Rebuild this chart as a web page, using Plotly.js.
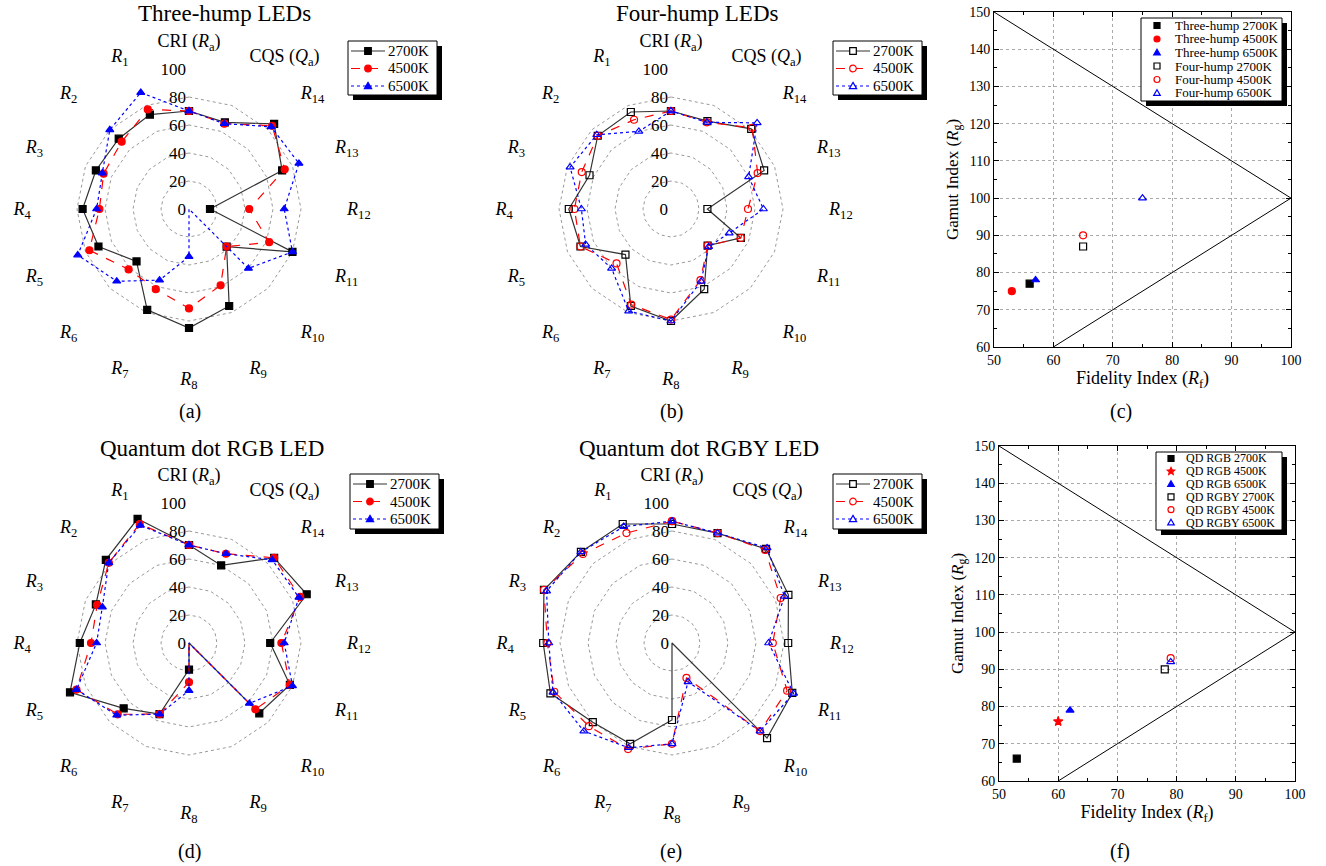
<!DOCTYPE html>
<html>
<head>
<meta charset="utf-8">
<script src="https://cdn.plot.ly/plotly-3.0.1.min.js"></script>
<style>html,body{margin:0;padding:0;background:#fff;}#chart{width:1326px;height:866px;}</style>
</head>
<body>
<div id="chart"></div>
<script>
// ---------- DATA ----------
const categories = ['CRI (<i>R</i><sub>a</sub>)', '<i>R</i><sub>1</sub>', '<i>R</i><sub>2</sub>', '<i>R</i><sub>3</sub>',
  '<i>R</i><sub>4</sub>', '<i>R</i><sub>5</sub>', '<i>R</i><sub>6</sub>', '<i>R</i><sub>7</sub>', '<i>R</i><sub>8</sub>',
  '<i>R</i><sub>9</sub>', '<i>R</i><sub>10</sub>', '<i>R</i><sub>11</sub>', '<i>R</i><sub>12</sub>', '<i>R</i><sub>13</sub>',
  '<i>R</i><sub>14</sub>', 'CQS (<i>Q</i><sub>a</sub>)'];
const radialTicks = [0, 20, 40, 60, 80, 100];
const seriesNames = ['2700K', '4500K', '6500K'];

const threeHump2700 = [70, 73, 71, 72, 76, 70, 53, 78, 85, 75, 38, 80, 15, 72, 86, 67];
const threeHump4500 = [70, 77, 68, 66, 64, 77, 61, 62, 71, 59, 38, 62, 43, 74, 84, 66];
const threeHump6500 = [70, 90, 80, 67, 66, 86, 73, 55, 34, 0, 60, 80, 68, 85, 83, 66];

const fourHump2700 = [70, 75, 74, 63, 73, 70, 46, 75, 80, 62, 37, 54, 26, 72, 81, 68];
const fourHump4500 = [70, 69, 74, 69, 69, 70, 55, 74, 79, 55, 37, 54, 55, 67, 82, 67];
const fourHump6500 = [70, 60, 75, 78, 64, 66, 60, 79, 80, 56, 38, 45, 66, 60, 87, 67];

const qdRGB2700 = [70, 96, 84, 72, 78, 92, 66, 55, 19, 0, 71, 78, 58, 91, 86, 60];
const qdRGB4500 = [70, 92, 81, 71, 70, 87, 72, 55, 28, 0, 67, 78, 66, 86, 86, 69];
const qdRGB6500 = [70, 91, 81, 67, 66, 87, 73, 55, 34, 0, 61, 80, 68, 85, 84, 69];

const qdRGBY2700 = [85, 92, 92, 99, 92, 94, 80, 78, 55, 0, 96, 93, 83, 90, 95, 85];
const qdRGBY4500 = [87, 85, 90, 99, 89, 91, 84, 82, 72, 27, 89, 89, 72, 84, 94, 85];
const qdRGBY6500 = [87, 90, 92, 97, 88, 92, 89, 81, 72, 30, 89, 94, 69, 87, 96, 85];

// TM-30 scatter (Rf, Rg)
const humpNames = ['Three-hump 2700K', 'Three-hump 4500K', 'Three-hump 6500K', 'Four-hump 2700K', 'Four-hump 4500K', 'Four-hump 6500K'];
const humpRf = [56, 53, 57, 65, 65, 75];
const humpRg = [77, 75, 78, 87, 90, 100];
const qdNames = ['QD RGB 2700K', 'QD RGB 4500K', 'QD RGB 6500K', 'QD RGBY 2700K', 'QD RGBY 4500K', 'QD RGBY 6500K'];
const qdRf = [53, 60, 62, 78, 79, 79];
const qdRg = [66, 76, 79, 90, 93, 92];
const boundaryRf = [50, 100, 60];
const boundaryRg = [150, 100, 60];

// ---------- STYLE ----------
const FONT = 'Liberation Serif, Times New Roman, serif';
const W = 1326, H = 866;
const px = v => v / W;
const py = v => 1 - v / H;

const lineStyles = [
  {color: '#333', dash: 'solid', mcolor: '#000'},
  {color: '#ff0000', dash: 'dash', mcolor: '#ff0000'},
  {color: '#0000ff', dash: 'dot', mcolor: '#0000ff'}
];
const filledSyms = ['square', 'circle', 'triangle-up'];
const openSyms = ['square-open', 'circle-open', 'triangle-up-open'];

const traces = [];
function closeLoop(a) { return a.concat([a[0]]); }
function addRadar(series, polarId, syms) {
  series.forEach((vals, i) => {
    traces.push({
      type: 'scatterpolar', mode: 'lines+markers',
      r: closeLoop(vals), theta: closeLoop(categories),
      name: seriesNames[i], subplot: polarId, showlegend: false,
      line: {color: lineStyles[i].color, dash: lineStyles[i].dash, width: 1.2},
      marker: {symbol: syms[i], size: 7, color: lineStyles[i].mcolor, line: {width: 1.2, color: lineStyles[i].mcolor}},
      cliponaxis: false
    });
  });
}
addRadar([threeHump2700, threeHump4500, threeHump6500], 'polar', filledSyms);
addRadar([fourHump2700, fourHump4500, fourHump6500], 'polar2', openSyms);
addRadar([qdRGB2700, qdRGB4500, qdRGB6500], 'polar3', filledSyms);
addRadar([qdRGBY2700, qdRGBY4500, qdRGBY6500], 'polar4', openSyms);

const scatterSyms = ['square', 'circle', 'triangle-up', 'square-open', 'circle-open', 'triangle-up-open'];
const scatterSymsF = ['square', 'star', 'triangle-up', 'square-open', 'circle-open', 'triangle-up-open'];
const scatterCols = ['#000', '#ff0000', '#0000ff', '#000', '#ff0000', '#0000ff'];

function addScatter(names, xs, ys, xa, ya, syms) {
  traces.push({type: 'scatter', mode: 'lines', x: boundaryRf, y: boundaryRg, xaxis: xa, yaxis: ya,
    line: {color: '#000', width: 1}, showlegend: false, hoverinfo: 'skip'});
  names.forEach((n, i) => {
    traces.push({type: 'scatter', mode: 'markers', x: [xs[i]], y: [ys[i]], name: n, xaxis: xa, yaxis: ya,
      showlegend: false, cliponaxis: false,
      marker: {symbol: syms[i], size: 7, color: scatterCols[i], line: {width: 1.2, color: scatterCols[i]}}});
  });
}
addScatter(humpNames, humpRf, humpRg, 'x', 'y', scatterSyms);
addScatter(qdNames, qdRf, qdRg, 'x2', 'y2', scatterSymsF);

function polarLayout(cx, cy, R) {
  return {
    domain: {x: [px(cx - R), px(cx + R)], y: [py(cy + R), py(cy - R)]},
    bgcolor: '#fff',
    gridshape: 'linear',
    radialaxis: {
      range: [0, 100], tickvals: radialTicks, angle: 90, side: 'counterclockwise',
      showline: false, ticks: '', gridcolor: '#999', griddash: 'dot', gridwidth: 1,
      tickfont: {family: FONT, size: 17, color: '#000'}, tickangle: 90
    },
    angularaxis: {
      direction: 'counterclockwise', rotation: 90, showgrid: false, showline: false,
      ticks: 'outside', ticklen: 14, tickcolor: 'rgba(0,0,0,0)',
      tickfont: {family: FONT, size: 18, color: '#000'}
    }
  };
}

function axisStyle(domainPx, isX) {
  const d = isX ? [px(domainPx[0]), px(domainPx[1])] : [py(domainPx[1]), py(domainPx[0])];
  return {
    domain: d, range: isX ? [50, 100] : [60, 150], dtick: 10, showline: true, mirror: 'allticks',
    linecolor: '#000', linewidth: 1, ticks: 'inside', ticklen: 5, tickcolor: '#000',
    showgrid: true, gridcolor: '#aaa', griddash: 'dot', zeroline: false,
    minor: {dtick: 5, ticks: 'inside', ticklen: 3, tickcolor: '#000', showgrid: false},
    tickfont: {family: FONT, size: 14, color: '#000'}
  };
}

const xa1 = axisStyle([994, 1291], true);
xa1.anchor = 'y';
xa1.title = {text: 'Fidelity Index (<i>R</i><sub>f</sub>)', font: {family: FONT, size: 18, color: '#000'}, standoff: 4};
const ya1 = axisStyle([12, 347], false);
ya1.anchor = 'x';
ya1.title = {text: 'Gamut Index (<i>R</i><sub>g</sub>)', font: {family: FONT, size: 17, color: '#000'}, standoff: 6};
const xa2 = axisStyle([999, 1295], true);
xa2.anchor = 'y2';
xa2.title = {text: 'Fidelity Index (<i>R</i><sub>f</sub>)', font: {family: FONT, size: 18, color: '#000'}, standoff: 4};
const ya2 = axisStyle([446, 781], false);
ya2.anchor = 'x2';
ya2.title = {text: 'Gamut Index (<i>R</i><sub>g</sub>)', font: {family: FONT, size: 17, color: '#000'}, standoff: 6};

function ann(text, x, y, size, anchor) {
  return {text: text, x: px(x), y: py(y), xref: 'paper', yref: 'paper', showarrow: false,
    xanchor: anchor || 'center', yanchor: 'middle', font: {family: FONT, size: size, color: '#000'}};
}

// ---------- manual legends (boxes with drop shadow) ----------
const shapes = [];
const annotations = [];
function symbolShape(sym, cx, cy, s, color) {
  const open = sym.indexOf('open') >= 0;
  const fill = open ? '#fff' : color;
  const base = {xref: 'paper', yref: 'paper', fillcolor: fill, line: {color: color, width: 1.2}, layer: 'above'};
  if (sym.startsWith('square')) {
    return Object.assign({type: 'rect', x0: px(cx - s), x1: px(cx + s), y0: py(cy + s), y1: py(cy - s)}, base);
  }
  if (sym.startsWith('circle')) {
    return Object.assign({type: 'circle', x0: px(cx - s), x1: px(cx + s), y0: py(cy + s), y1: py(cy - s)}, base);
  }
  let pts;
  if (sym.startsWith('triangle')) {
    pts = [[cx, cy - s * 1.1], [cx + s * 1.1, cy + s * 0.8], [cx - s * 1.1, cy + s * 0.8]];
  } else { // star
    pts = [];
    for (let k = 0; k < 10; k++) {
      const a = -Math.PI / 2 + k * Math.PI / 5;
      const rr = k % 2 === 0 ? s * 1.3 : s * 0.6;
      pts.push([cx + rr * Math.cos(a), cy + rr * Math.sin(a)]);
    }
  }
  const path = 'M' + pts.map(p => px(p[0]) + ',' + py(p[1])).join('L') + 'Z';
  return Object.assign({type: 'path', path: path}, base);
}
function manualLegend(box, rows, opt) {
  const [x0, y0, x1, y1] = box;
  shapes.push({type: 'rect', xref: 'paper', yref: 'paper', x0: px(x0 + 5), x1: px(x1 + 5), y0: py(y1 + 5), y1: py(y0 + 5),
    fillcolor: '#000', line: {width: 0}, layer: 'above'});
  shapes.push({type: 'rect', xref: 'paper', yref: 'paper', x0: px(x0), x1: px(x1), y0: py(y1), y1: py(y0),
    fillcolor: '#fff', line: {color: '#000', width: 1}, layer: 'above'});
  rows.forEach((r, i) => {
    const yy = y0 + opt.firstRow + i * opt.rowH;
    if (opt.lineFrom !== undefined) {
      shapes.push({type: 'line', xref: 'paper', yref: 'paper', x0: px(x0 + opt.lineFrom), x1: px(x0 + opt.lineTo),
        y0: py(yy), y1: py(yy), line: {color: r.lcolor, dash: r.dash, width: 1.2}, layer: 'above'});
    }
    shapes.push(symbolShape(r.sym, x0 + opt.symX, yy, opt.symS, r.color));
    annotations.push(ann(r.name, x0 + opt.textX, yy, opt.font, 'left'));
  });
}
function radarRows(syms) {
  return seriesNames.map((n, i) => ({name: n, sym: syms[i], color: lineStyles[i].mcolor, lcolor: lineStyles[i].color, dash: lineStyles[i].dash}));
}
const radarOpt = {firstRow: 10, rowH: 17.5, lineFrom: 3, lineTo: 37, symX: 20, symS: 3.3, textX: 38, font: 15};
manualLegend([348, 41, 437, 95], radarRows(filledSyms), radarOpt);
manualLegend([833, 41, 922, 95], radarRows(openSyms), radarOpt);
manualLegend([350, 474, 439, 529], radarRows(filledSyms), radarOpt);
manualLegend([833, 474, 922, 529], radarRows(openSyms), radarOpt);
const scatOpt = {firstRow: 7.5, rowH: 13.5, symX: 16, symS: 3, textX: 32, font: 13};
manualLegend([1141, 18, 1282, 101], humpNames.map((n, i) => ({name: n, sym: scatterSyms[i], color: scatterCols[i]})), scatOpt);
const scatOptF = {firstRow: 6.5, rowH: 12.8, symX: 15, symS: 3, textX: 28, font: 12};
manualLegend([1156, 452, 1282, 530], qdNames.map((n, i) => ({name: n, sym: scatterSymsF[i], color: scatterCols[i]})), scatOptF);

annotations.push(
  ann('Three-hump LEDs', 224, 14, 23), ann('Four-hump LEDs', 697, 14, 23),
  ann('Quantum dot RGB LED', 212, 448, 23), ann('Quantum dot RGBY LED', 699, 448, 23),
  ann('(a)', 190, 412, 20), ann('(b)', 671, 412, 20), ann('(c)', 1121, 412, 20),
  ann('(d)', 189, 851, 20), ann('(e)', 671, 851, 20), ann('(f)', 1120, 851, 20)
);

const layout = {
  width: W, height: H, margin: {l: 0, r: 0, t: 0, b: 0},
  paper_bgcolor: '#fff', plot_bgcolor: '#fff', showlegend: false,
  font: {family: FONT, color: '#000'},
  polar: polarLayout(189, 209, 140),
  polar2: polarLayout(671, 209, 140),
  polar3: polarLayout(189, 643, 140),
  polar4: polarLayout(672, 643, 140),
  xaxis: xa1, yaxis: ya1, xaxis2: xa2, yaxis2: ya2,
  shapes: shapes,
  annotations: annotations
};

Plotly.newPlot('chart', traces, layout, {displayModeBar: false, staticPlot: true});
</script>
</body>
</html>
